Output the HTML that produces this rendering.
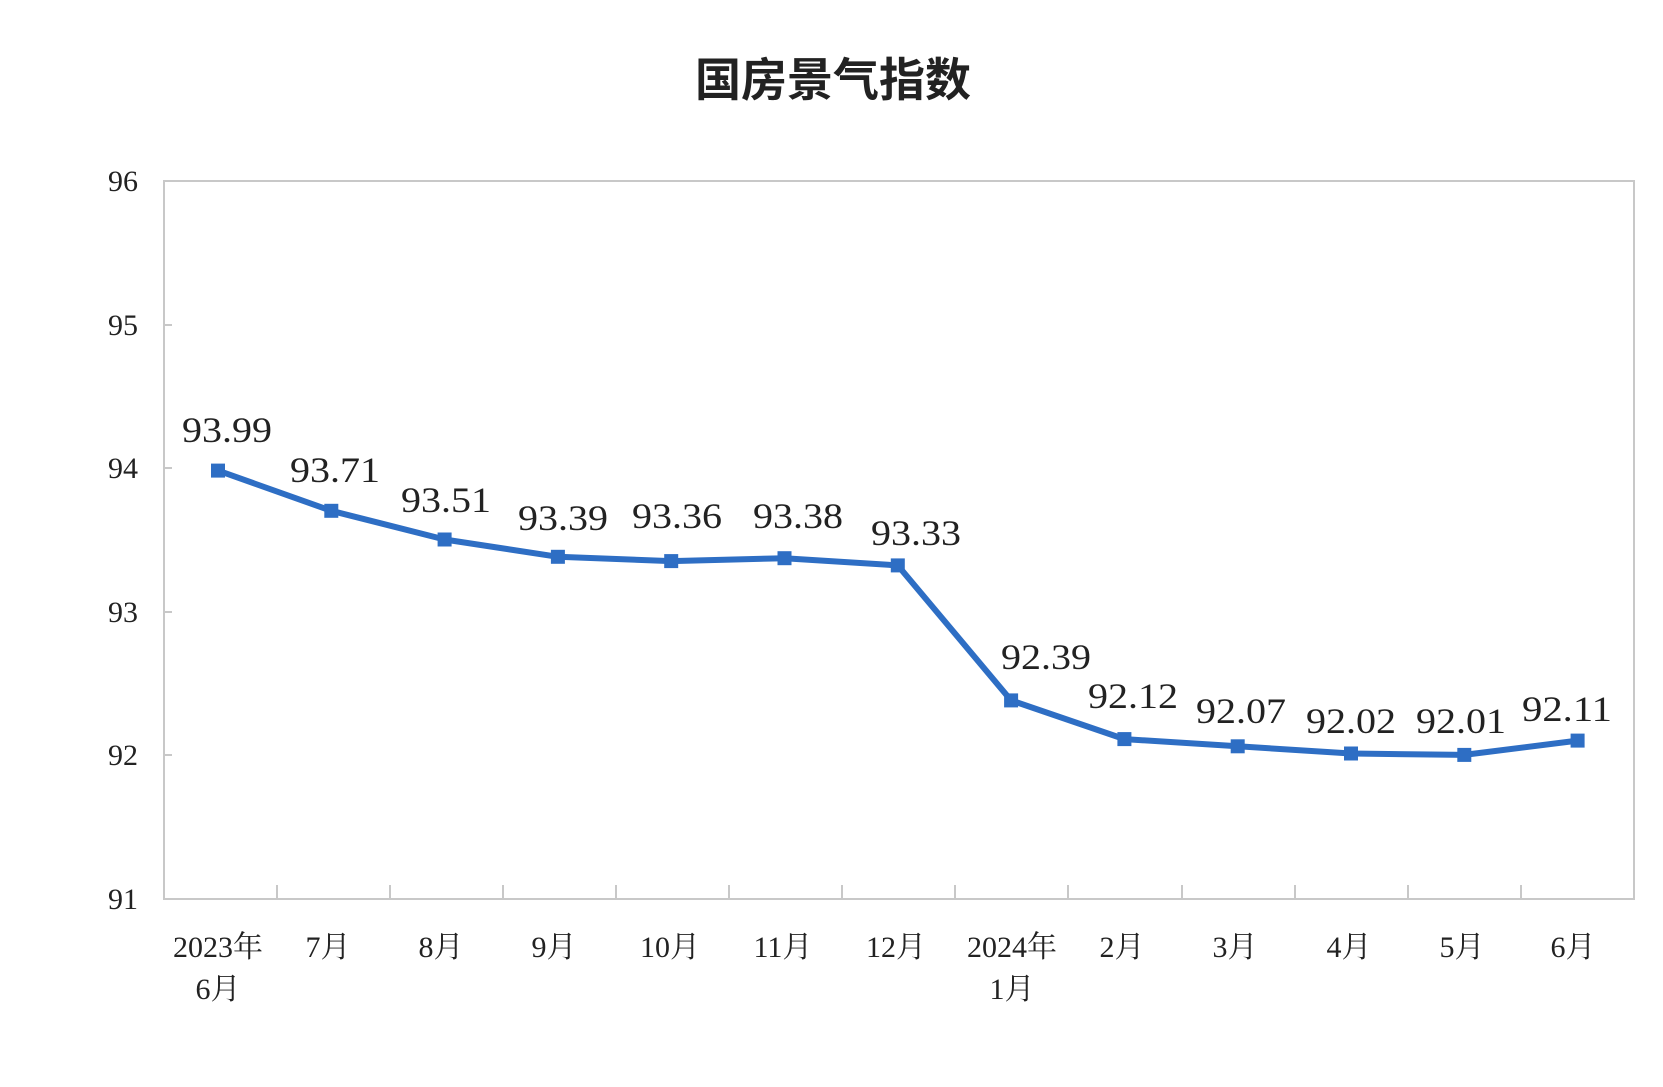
<!DOCTYPE html>
<html><head><meta charset="utf-8"><style>
html,body{margin:0;padding:0;background:#fff;}
svg{display:block;}
.s{font-family:"Liberation Serif","Noto Serif CJK SC",serif;fill:#222;}
</style></head><body>
<svg width="1663" height="1087" viewBox="0 0 1663 1087" xmlns="http://www.w3.org/2000/svg">
<text x="833" y="96" text-anchor="middle" font-family="'Liberation Sans','Noto Sans CJK SC',sans-serif" font-weight="bold" font-size="46" fill="#222">国房景气指数</text>
<rect x="164" y="181" width="1470" height="718" fill="none" stroke="#c8c8c8" stroke-width="2"/>
<g stroke="#c8c8c8" stroke-width="2">
<line x1="164" y1="325" x2="172" y2="325"/><line x1="164" y1="468" x2="172" y2="468"/><line x1="164" y1="612" x2="172" y2="612"/><line x1="164" y1="755" x2="172" y2="755"/>
<line x1="277" y1="899" x2="277" y2="885"/><line x1="390" y1="899" x2="390" y2="885"/><line x1="503" y1="899" x2="503" y2="885"/><line x1="616" y1="899" x2="616" y2="885"/><line x1="729" y1="899" x2="729" y2="885"/><line x1="842" y1="899" x2="842" y2="885"/><line x1="955" y1="899" x2="955" y2="885"/><line x1="1068" y1="899" x2="1068" y2="885"/><line x1="1182" y1="899" x2="1182" y2="885"/><line x1="1295" y1="899" x2="1295" y2="885"/><line x1="1408" y1="899" x2="1408" y2="885"/><line x1="1521" y1="899" x2="1521" y2="885"/>
</g>
<g class="s" font-size="30" text-anchor="end">
<text x="138" y="191">96</text><text x="138" y="335">95</text><text x="138" y="478">94</text><text x="138" y="622">93</text><text x="138" y="765">92</text><text x="138" y="909">91</text>
</g>
<g class="s" font-size="30" text-anchor="middle">
<text x="218" y="957">2023年</text><text x="218" y="999">6月</text>
<text x="328" y="957">7月</text><text x="441" y="957">8月</text><text x="554" y="957">9月</text>
<text x="670" y="957">10月</text><text x="783" y="957">11月</text><text x="896" y="957">12月</text>
<text x="1012" y="957">2024年</text><text x="1012" y="999">1月</text>
<text x="1122" y="957">2月</text><text x="1235" y="957">3月</text><text x="1349" y="957">4月</text><text x="1462" y="957">5月</text><text x="1573" y="957">6月</text>
</g>
<polyline fill="none" stroke="#2e6ec4" stroke-width="6" stroke-linejoin="round" points="218,470.6 331.3,510.8 444.6,539.5 557.9,556.8 671.2,561.1 784.5,558.2 897.8,565.4 1011.1,700.4 1124.4,739.1 1237.7,746.3 1351,753.5 1464.3,754.9 1577.6,740.6"/>
<g fill="#2e6ec4">
<rect x="211" y="463.6" width="14" height="14"/><rect x="324.3" y="503.8" width="14" height="14"/><rect x="437.6" y="532.5" width="14" height="14"/><rect x="550.9" y="549.8" width="14" height="14"/><rect x="664.2" y="554.1" width="14" height="14"/><rect x="777.5" y="551.2" width="14" height="14"/><rect x="890.8" y="558.4" width="14" height="14"/><rect x="1004.1" y="693.4" width="14" height="14"/><rect x="1117.4" y="732.1" width="14" height="14"/><rect x="1230.7" y="739.3" width="14" height="14"/><rect x="1344" y="746.5" width="14" height="14"/><rect x="1457.3" y="747.9" width="14" height="14"/><rect x="1570.6" y="733.6" width="14" height="14"/>
</g>
<g class="s" font-size="36" text-anchor="middle">
<text x="227" y="442" textLength="90" lengthAdjust="spacingAndGlyphs">93.99</text>
<text x="335" y="482" textLength="90" lengthAdjust="spacingAndGlyphs">93.71</text>
<text x="446" y="512" textLength="90" lengthAdjust="spacingAndGlyphs">93.51</text>
<text x="563" y="530" textLength="90" lengthAdjust="spacingAndGlyphs">93.39</text>
<text x="677" y="528" textLength="90" lengthAdjust="spacingAndGlyphs">93.36</text>
<text x="798" y="528" textLength="90" lengthAdjust="spacingAndGlyphs">93.38</text>
<text x="916" y="545" textLength="90" lengthAdjust="spacingAndGlyphs">93.33</text>
<text x="1046" y="669" textLength="90" lengthAdjust="spacingAndGlyphs">92.39</text>
<text x="1133" y="708" textLength="90" lengthAdjust="spacingAndGlyphs">92.12</text>
<text x="1241" y="723" textLength="90" lengthAdjust="spacingAndGlyphs">92.07</text>
<text x="1351" y="733" textLength="90" lengthAdjust="spacingAndGlyphs">92.02</text>
<text x="1461" y="733" textLength="90" lengthAdjust="spacingAndGlyphs">92.01</text>
<text x="1567" y="721" textLength="90" lengthAdjust="spacingAndGlyphs">92.11</text>
</g>
</svg>
</body></html>
